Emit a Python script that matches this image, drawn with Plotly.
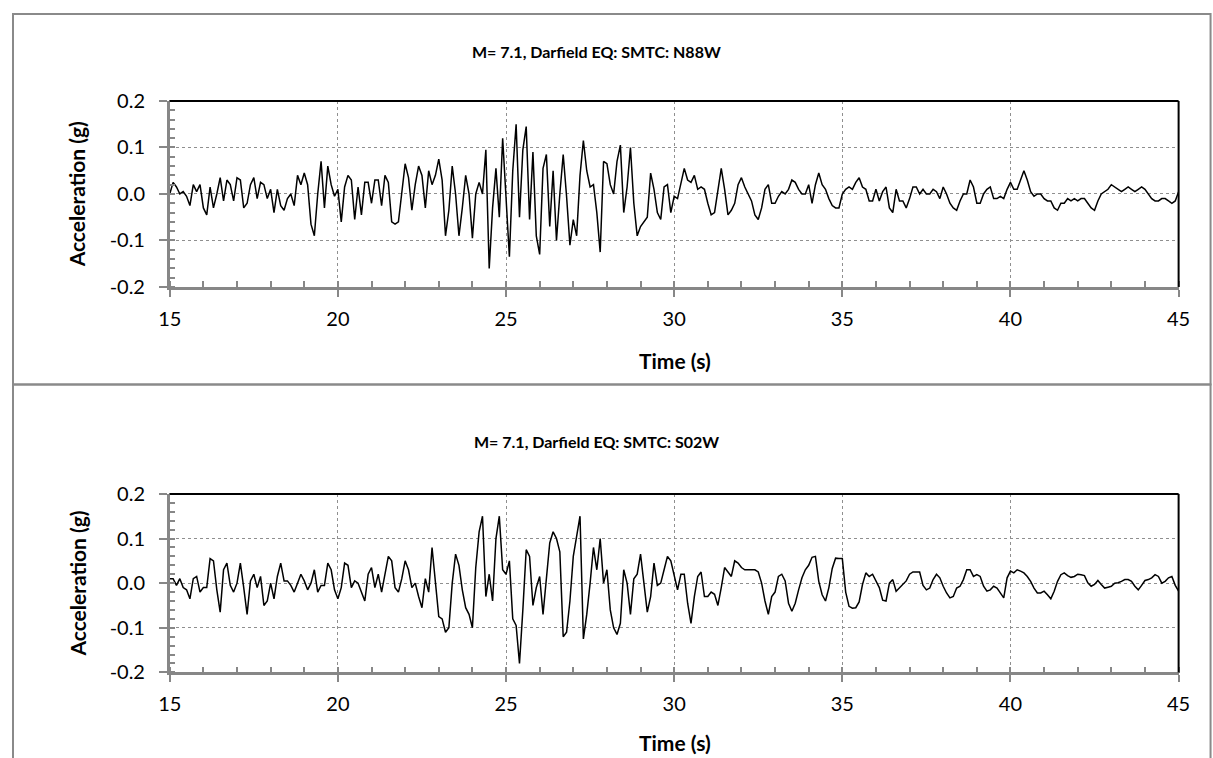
import plotly.graph_objects as go

# Sampling times (s): regular 0.1 s grid from 15 s to 45 s
time_s = [round(15 + 0.1 * i, 1) for i in range(301)]

# Acceleration (g), component N88W
acc_n88w = [
    0.0, 0.025, 0.015, 0.0, 0.005, -0.005, -0.025, 0.02, 0.005, 0.02,
    -0.03, -0.045, 0.015, -0.03, 0.0, 0.035, -0.015, 0.03, 0.02, -0.015,
    0.035, 0.03, -0.03, -0.02, 0.02, 0.035, -0.01, 0.025, 0.02, -0.01,
    0.01, -0.04, 0.01, -0.025, -0.035, -0.01, 0.0, -0.025, 0.04, 0.02,
    0.045, 0.02, -0.065, -0.09, 0.0, 0.07, -0.03, 0.06, 0.02, -0.005,
    0.01, -0.06, 0.015, 0.04, 0.03, -0.055, 0.015, -0.045, 0.025, 0.025,
    -0.02, 0.03, 0.03, -0.025, 0.04, 0.025, -0.06, -0.065, -0.06, 0.0,
    0.065, 0.035, -0.035, 0.02, 0.06, 0.04, -0.03, 0.05, 0.02, 0.04,
    0.075, 0.03, -0.09, -0.035, 0.06, 0.0, -0.09, -0.03, 0.04, 0.0,
    -0.095, 0.0, 0.025, 0.0, 0.095, -0.16, -0.03, 0.055, -0.05, 0.12,
    0.0, -0.135, 0.05, 0.15, -0.05, 0.095, 0.145, -0.055, 0.09, -0.09,
    -0.13, 0.055, 0.085, -0.07, 0.05, -0.1, 0.0, 0.085, -0.005, -0.11,
    -0.055, -0.09, 0.04, 0.115, 0.05, 0.015, 0.02, -0.04, -0.125, 0.07,
    0.065, 0.02, 0.0, 0.07, 0.105, -0.04, 0.015, 0.1, -0.02, -0.09,
    -0.07, -0.06, -0.05, 0.045, 0.01, -0.04, -0.055, 0.015, 0.02, -0.04,
    -0.005, -0.01, 0.02, 0.055, 0.03, 0.025, 0.04, 0.01, 0.015, 0.01,
    -0.02, -0.045, -0.04, 0.005, 0.055, 0.01, -0.045, -0.035, -0.02, 0.02,
    0.035, 0.015, 0.0, -0.015, -0.045, -0.055, -0.03, 0.01, 0.02, -0.02,
    -0.02, -0.005, 0.005, 0.0, 0.01, 0.03, 0.025, 0.01, 0.0, 0.0,
    0.02, -0.02, 0.02, 0.045, 0.02, 0.01, -0.01, -0.025, -0.03, -0.03,
    0.0, 0.01, 0.015, 0.01, 0.025, 0.035, 0.015, 0.01, -0.015, -0.015,
    0.01, -0.015, 0.005, 0.015, -0.03, -0.04, 0.01, -0.015, -0.015, -0.03,
    -0.01, 0.015, 0.015, 0.0, 0.01, 0.0, 0.0, 0.01, 0.005, -0.01,
    0.015, 0.0, -0.02, -0.03, -0.035, -0.015, 0.0, 0.0, 0.03, 0.015,
    -0.02, -0.02, 0.0, 0.01, 0.015, -0.01, -0.01, -0.005, -0.01, 0.01,
    0.025, 0.01, 0.01, 0.03, 0.05, 0.03, 0.005, -0.005, 0.0, 0.0,
    -0.01, -0.015, -0.015, -0.03, -0.035, -0.02, -0.02, -0.01, -0.015, -0.01,
    -0.015, -0.01, -0.01, -0.02, -0.03, -0.035, -0.015, 0.0, 0.005, 0.01,
    0.02, 0.015, 0.01, 0.005, 0.01, 0.015, 0.01, 0.005, 0.01, 0.015,
    0.01, 0.0, -0.01, -0.015, -0.015, -0.01, -0.01, -0.015, -0.02, -0.015,
    0.005,
]

# Acceleration (g), component S02W
acc_s02w = [
    0.01, 0.01, -0.005, 0.01, -0.01, -0.015, -0.035, 0.01, 0.015, -0.02,
    -0.01, -0.01, 0.055, 0.05, -0.015, -0.065, 0.03, 0.045, -0.005, -0.02,
    0.0, 0.045, -0.01, -0.07, 0.005, 0.02, -0.01, 0.015, -0.05, -0.04,
    0.0, -0.035, 0.015, 0.045, 0.005, 0.005, -0.005, -0.02, 0.0, 0.02,
    0.005, -0.015, 0.0, 0.03, -0.02, -0.005, -0.005, 0.045, 0.03, -0.015,
    -0.035, -0.01, 0.045, 0.04, -0.01, 0.005, 0.0, -0.02, -0.04, 0.02,
    0.035, -0.01, 0.02, -0.02, 0.02, 0.06, 0.05, -0.01, -0.02, 0.01,
    0.05, 0.03, -0.01, 0.0, -0.03, -0.055, 0.01, -0.02, 0.08, 0.0,
    -0.075, -0.08, -0.11, -0.1, 0.0, 0.065, 0.04, -0.015, -0.055, -0.07,
    -0.1, 0.035, 0.115, 0.15, -0.03, 0.02, -0.04, 0.1, 0.15, 0.03,
    0.02, 0.05, -0.08, -0.095, -0.18, -0.06, 0.075, 0.06, -0.05, -0.01,
    0.015, -0.07, 0.02, 0.09, 0.115, 0.1, 0.07, -0.12, -0.11, -0.04,
    0.06, 0.11, 0.15, -0.125, -0.07, 0.0, 0.08, 0.03, 0.1, 0.0,
    0.03, -0.06, -0.1, -0.115, -0.09, 0.03, 0.0, -0.07, 0.01, 0.02,
    0.065, 0.0, -0.065, -0.03, 0.045, -0.005, 0.0, 0.03, 0.06, 0.05,
    0.02, -0.015, 0.02, 0.02, -0.045, -0.09, -0.03, 0.015, 0.025, -0.03,
    -0.03, -0.02, -0.025, -0.05, -0.01, 0.035, 0.025, 0.015, 0.05, 0.045,
    0.035, 0.03, 0.03, 0.03, 0.03, 0.025, 0.0, -0.04, -0.07, -0.03,
    -0.02, 0.015, 0.02, 0.005, -0.045, -0.063, -0.045, -0.015, 0.012, 0.03,
    0.04, 0.058, 0.06, 0.004, -0.026, -0.04, -0.01, 0.033, 0.056, 0.055,
    0.055, -0.02, -0.052, -0.056, -0.055, -0.042, -0.003, 0.023, 0.015, 0.02,
    0.004, -0.01, -0.038, -0.04, 0.0, 0.008, -0.018, -0.01, -0.002, 0.005,
    0.02, 0.025, 0.025, 0.025, -0.005, -0.015, -0.011, 0.008, 0.02, 0.012,
    -0.007, -0.022, -0.033, -0.03, -0.011, -0.007, 0.008, 0.03, 0.03, 0.015,
    0.019, 0.015, -0.007, -0.018, -0.015, -0.007, -0.011, -0.022, -0.033, 0.012,
    0.027, 0.023, 0.03, 0.027, 0.023, 0.015, 0.004, -0.011, -0.022, -0.022,
    -0.018, -0.026, -0.035, -0.018, 0.004, 0.019, 0.023, 0.017, 0.013, 0.015,
    0.02, 0.019, 0.017, 0.001, -0.007, -0.003, 0.006, -0.003, -0.011, -0.009,
    -0.007, 0.0, 0.001, 0.004, 0.008, 0.008, 0.004, -0.007, -0.015, -0.005,
    0.006, 0.008, 0.012, 0.019, 0.015, 0.0, 0.004, 0.012, 0.015, -0.005,
    -0.018,
]

titles = ["M= 7.1, Darfield EQ: SMTC: N88W", "M= 7.1, Darfield EQ: SMTC: S02W"]
x_ticks = [15, 20, 25, 30, 35, 40, 45]
y_ticks = [-0.2, -0.1, 0.0, 0.1, 0.2]
y_tick_labels = ["-0.2", "-0.1", "0.0", "0.1", "0.2"]
x_title = "Time (s)"
y_title = "Acceleration (g)"

# The photographed page shows the figure with a small offset and a slight
# shrink; target pixel positions are mapped back through that.
A_X, S_X = 10.5, 0.982
A_Y, S_Y = 11.5, 0.969
W, H = 1225, 770
FONT = "Lato"
AXIS_GREY = "#878787"
GRID_GREY = "#8f8f8f"


def px_x(p):
    return ((p - A_X) / S_X) / W


def px_y(p):
    return 1 - ((p - A_Y) / S_Y) / H


# target pixel geometry (in the 1213x758 picture)
x_left, x_right = 168.5, 1179
panels = [
    dict(top=99.5, bottom=285.5, title_y=50, xlab_y=359, box=(12.5, 383)),
    dict(top=492.5, bottom=671, title_y=440, xlab_y=741, box=(383, 800)),
]

fig = go.Figure()
series = [acc_n88w, acc_s02w]
layout_axes = {}
annotations = []
shapes = []

for i, (pan, acc) in enumerate(zip(panels, series)):
    sfx = "" if i == 0 else str(i + 1)
    fig.add_trace(go.Scatter(
        x=time_s, y=acc, mode="lines",
        line=dict(color="black", width=1.5),
        xaxis="x" + sfx, yaxis="y" + sfx, showlegend=False,
        hoverinfo="skip",
    ))
    layout_axes["xaxis" + sfx] = dict(
        domain=[px_x(x_left), px_x(x_right)],
        anchor="y" + sfx,
        range=[15, 45],
        tickmode="array", tickvals=x_ticks,
        ticks="outside", ticklen=7, tickwidth=1.5, tickcolor=AXIS_GREY,
        showline=True, linecolor=AXIS_GREY, linewidth=2.5,
        showgrid=True, gridcolor=GRID_GREY, gridwidth=1.3, griddash="dot",
        zeroline=False,
        minor=dict(dtick=1, ticks="inside", ticklen=6, tickwidth=1.5,
                   tickcolor=AXIS_GREY, showgrid=False),
        tickfont=dict(family=FONT, size=20, color="black"),
        ticklabelstandoff=5,
        fixedrange=True,
    )
    layout_axes["yaxis" + sfx] = dict(
        domain=[px_y(pan["bottom"]), px_y(pan["top"])],
        anchor="x" + sfx,
        range=[-0.2, 0.2],
        tickmode="array", tickvals=y_ticks, ticktext=y_tick_labels,
        ticks="outside", ticklen=8, tickwidth=1.5, tickcolor=AXIS_GREY,
        showline=True, linecolor=AXIS_GREY, linewidth=2.5,
        showgrid=True, gridcolor=GRID_GREY, gridwidth=1.3, griddash="dot",
        zeroline=False,
        minor=dict(dtick=0.02, ticks="inside", ticklen=6, tickwidth=1.5,
                   tickcolor=AXIS_GREY, showgrid=False),
        tickfont=dict(family=FONT, size=20, color="black"),
        ticklabelstandoff=10,
        fixedrange=True,
    )
    # black top and right plot-area edges
    shapes.append(dict(type="line", xref="x" + sfx + " domain", yref="y" + sfx + " domain",
                       x0=0, x1=1, y0=1, y1=1, line=dict(color="black", width=2)))
    shapes.append(dict(type="line", xref="x" + sfx + " domain", yref="y" + sfx + " domain",
                       x0=1, x1=1, y0=0, y1=1, line=dict(color="black", width=2)))
    # chart box
    shapes.append(dict(type="rect", xref="paper", yref="paper",
                       x0=px_x(11.5), x1=px_x(1211), y0=px_y(pan["box"][1]), y1=px_y(pan["box"][0]),
                       line=dict(color="#8a8a8a", width=2), layer="below"))
    annotations.append(dict(text="<b>" + titles[i] + "</b>", xref="paper", yref="paper",
                            x=px_x(596), y=px_y(pan["title_y"]), showarrow=False,
                            xanchor="center", yanchor="middle",
                            font=dict(family=FONT, size=16, color="black")))
    annotations.append(dict(text="<b>" + x_title + "</b>", xref="paper", yref="paper",
                            x=px_x(675), y=px_y(pan["xlab_y"]), showarrow=False,
                            xanchor="center", yanchor="middle",
                            font=dict(family=FONT, size=21, color="black")))
    annotations.append(dict(text="<b>" + y_title + "</b>", xref="paper", yref="paper",
                            x=px_x(76), y=px_y((pan["top"] + pan["bottom"]) / 2), showarrow=False,
                            textangle=-90, xanchor="center", yanchor="middle",
                            font=dict(family=FONT, size=21, color="black")))

fig.update_layout(
    width=W, height=H,
    margin=dict(l=0, r=0, t=0, b=0),
    paper_bgcolor="white", plot_bgcolor="white",
    showlegend=False,
    shapes=shapes,
    annotations=annotations,
    **layout_axes,
)

fig.write_html("out.html", config={"displayModeBar": False})
